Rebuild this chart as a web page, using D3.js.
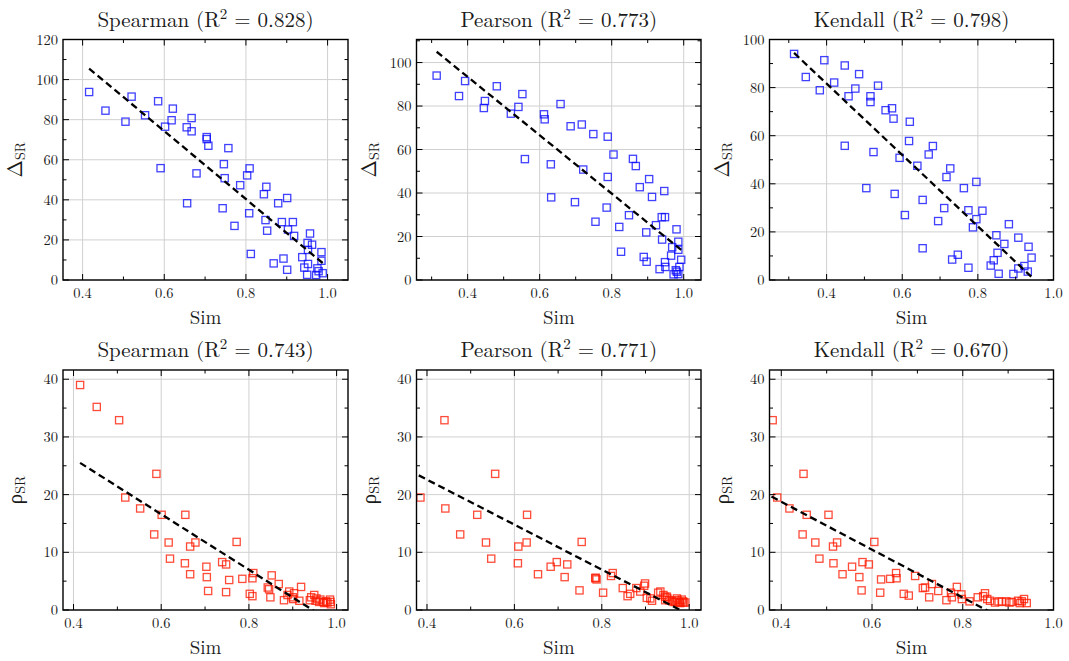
<!DOCTYPE html>
<html>
<head>
<meta charset="utf-8">
<script src="https://cdn.jsdelivr.net/npm/d3@7"></script>
<style>
  body { margin: 0; background: #fff; }
  svg { display: block; }
</style>
</head>
<body>
<svg id="chart" width="1069" height="661"></svg>
<script>
// ---------- data ----------
const methods = ["Spearman", "Pearson", "Kendall", "Spearman", "Pearson", "Kendall"];
const r2Values = [0.828, 0.773, 0.798, 0.743, 0.771, 0.670];
const xTickLabels = [0.4, 0.6, 0.8, 1.0];

// Delta_SR vs similarity
const simSpearmanA = [0.416,0.456,0.505,0.520,0.553,0.585,0.591,0.602,0.618,0.621,0.655,0.656,0.667,0.667,0.679,0.704,0.704,0.708,0.757,0.746,0.748,0.743,0.772,0.786,0.803,0.809,0.808,0.812,0.844,0.848,0.850,0.852,0.868,0.879,0.888,0.892,0.901,0.901,0.903,0.915,0.918,0.938,0.943,0.950,0.951,0.952,0.952,0.957,0.962,0.972,0.975,0.978,0.985,0.985,0.988];
const deltaSpearman = [93.8,84.5,79.0,91.5,82.2,89.2,55.8,76.5,79.7,85.5,76.2,38.3,80.8,74.2,53.2,71.3,70.3,67.0,65.8,57.8,50.8,35.8,27.0,47.3,52.2,55.7,33.3,13.0,42.8,29.9,46.5,24.6,8.3,38.3,28.9,10.7,40.9,5.1,25.2,28.9,22.0,11.4,6.2,2.6,18.5,15.0,8.0,23.2,17.6,2.5,5.8,4.4,13.9,9.6,3.4];

const simPearsonA = [0.314,0.376,0.393,0.445,0.448,0.481,0.520,0.541,0.552,0.559,0.612,0.614,0.631,0.632,0.658,0.686,0.698,0.717,0.721,0.749,0.755,0.786,0.789,0.789,0.805,0.821,0.826,0.848,0.859,0.867,0.878,0.889,0.896,0.897,0.904,0.912,0.923,0.933,0.939,0.940,0.946,0.948,0.948,0.949,0.965,0.968,0.972,0.978,0.980,0.981,0.985,0.985,0.985,0.988,0.993];
const deltaPearson = [94.0,84.6,91.5,79.1,82.3,89.1,76.5,79.6,85.5,55.6,76.2,73.9,53.2,38.0,80.9,70.7,35.8,71.5,50.8,67.1,26.8,33.3,65.9,47.4,57.7,24.4,13.0,29.8,55.7,52.4,42.7,10.6,21.9,8.4,46.4,38.2,25.2,5.0,28.9,18.6,40.9,28.9,8.2,6.0,11.2,15.1,2.6,4.5,23.3,3.8,17.6,13.9,2.7,6.0,9.3];

const simKendallA = [0.314,0.345,0.382,0.394,0.420,0.448,0.448,0.458,0.476,0.486,0.505,0.516,0.516,0.524,0.536,0.556,0.573,0.577,0.580,0.593,0.607,0.618,0.620,0.640,0.654,0.654,0.670,0.681,0.695,0.711,0.717,0.727,0.732,0.747,0.763,0.775,0.775,0.787,0.796,0.796,0.812,0.834,0.842,0.849,0.852,0.855,0.870,0.882,0.894,0.907,0.907,0.923,0.932,0.934,0.942];
const deltaKendall = [94.0,84.4,78.9,91.4,82.1,89.2,55.8,76.4,79.6,85.6,38.2,76.4,74.0,53.2,80.8,70.6,71.4,67.1,35.8,50.8,27.0,57.8,65.8,47.5,33.3,13.2,52.2,55.7,24.5,29.9,42.8,46.4,8.5,10.5,38.2,29.0,5.1,21.9,40.8,25.3,28.8,6.0,8.2,18.6,11.3,2.6,15.0,23.2,2.5,17.6,4.8,5.8,3.5,13.8,9.3];

// rho_SR vs similarity
const simSpearmanB = [0.415,0.453,0.504,0.518,0.552,0.584,0.589,0.601,0.617,0.620,0.654,0.655,0.666,0.666,0.678,0.703,0.704,0.707,0.739,0.748,0.748,0.755,0.772,0.785,0.802,0.808,0.808,0.810,0.843,0.846,0.849,0.852,0.868,0.880,0.888,0.892,0.900,0.901,0.903,0.915,0.919,0.939,0.942,0.949,0.952,0.954,0.960,0.963,0.969,0.972,0.976,0.979,0.985,0.986,0.987];
const rhoSpearman = [39.0,35.2,32.9,19.5,17.6,13.1,23.6,16.5,11.7,8.9,8.1,16.5,11.0,6.2,11.7,7.5,5.7,3.3,8.3,7.9,3.1,5.2,11.8,5.4,2.8,5.5,2.4,6.4,3.9,3.6,2.2,6.0,4.5,1.7,2.6,3.2,2.2,1.9,2.9,1.6,4.0,1.7,2.2,2.6,1.6,2.0,1.4,1.8,1.4,1.2,1.5,1.3,1.8,1.4,1.0];

const simPearsonB = [0.314,0.360,0.385,0.440,0.442,0.476,0.515,0.535,0.547,0.556,0.608,0.609,0.628,0.629,0.654,0.683,0.697,0.715,0.721,0.749,0.754,0.785,0.786,0.788,0.803,0.821,0.825,0.848,0.859,0.865,0.879,0.888,0.897,0.899,0.903,0.911,0.915,0.929,0.934,0.941,0.945,0.945,0.949,0.950,0.954,0.960,0.964,0.968,0.972,0.973,0.976,0.979,0.979,0.983,0.986,0.987,0.991];
const rhoPearson = [39.0,35.2,19.5,32.9,17.6,13.1,16.5,11.7,8.9,23.6,8.1,11.0,11.7,16.5,6.2,7.5,8.3,5.7,7.9,3.4,11.8,5.5,5.6,5.3,3.0,5.9,6.4,3.8,2.4,2.8,3.8,3.2,4.2,4.6,2.1,2.0,1.6,3.0,3.2,2.6,2.3,1.7,2.3,2.0,1.7,1.6,1.4,1.4,2.0,1.7,1.4,1.3,1.2,1.8,1.5,1.3,1.3];

const simKendallB = [0.314,0.345,0.381,0.391,0.418,0.447,0.449,0.456,0.475,0.484,0.504,0.514,0.515,0.523,0.535,0.556,0.572,0.577,0.579,0.593,0.605,0.618,0.620,0.640,0.653,0.654,0.670,0.681,0.695,0.712,0.717,0.726,0.732,0.746,0.764,0.774,0.776,0.787,0.797,0.798,0.815,0.833,0.845,0.849,0.854,0.860,0.871,0.879,0.886,0.896,0.903,0.908,0.922,0.926,0.930,0.935,0.941];
const rhoKendall = [39.0,35.2,32.9,19.5,17.6,13.1,23.6,16.5,11.7,8.9,16.5,11.0,8.1,11.7,6.2,7.5,5.7,3.4,8.3,7.9,11.8,3.0,5.3,5.4,6.4,5.5,2.8,2.5,5.9,3.8,3.9,2.2,4.5,3.3,1.7,3.0,2.2,4.0,2.7,1.9,1.5,2.2,2.4,2.9,1.9,1.6,1.3,1.5,1.4,1.5,1.3,1.4,1.6,1.2,1.5,1.9,1.2];

// least-squares fit per panel: y = intercept + slope * sim
const fitSlope = [-169.6, -134.2, -148.3, -48.1, -39.0, -41.5];
const fitIntercept = [176.05, 147.1, 140.97, 45.46, 38.2, 35.36];

// ---------- layout ----------
const FONT = "Latin Modern Roman";
const svg = d3.select("#chart");
svg.append("rect").attr("width", 1069).attr("height", 661).attr("fill", "#fff");

const cols = [[63, 348], [416.5, 701], [769.5, 1053.5]];
const rows = [[39.5, 280], [370, 610]];

const panels = [
  { xs: simSpearmanA, ys: deltaSpearman, xDom: [0.352, 1.05],  yDom: [0, 120],   yStep: 20, label: "Δ", color: "#0a0aff" },
  { xs: simPearsonA,  ys: deltaPearson,  xDom: [0.258, 1.048], yDom: [0, 110.6], yStep: 20, label: "Δ", color: "#0a0aff" },
  { xs: simKendallA,  ys: deltaKendall,  xDom: [0.249, 1.0],   yDom: [0, 100],   yStep: 20, label: "Δ", color: "#0a0aff" },
  { xs: simSpearmanB, ys: rhoSpearman,   xDom: [0.376, 1.026], yDom: [0, 41.6],  yStep: 10, label: "ρ", color: "#ff1a00" },
  { xs: simPearsonB,  ys: rhoPearson,    xDom: [0.376, 1.027], yDom: [0, 41.6],  yStep: 10, label: "ρ", color: "#ff1a00" },
  { xs: simKendallB,  ys: rhoKendall,    xDom: [0.374, 1.0],   yDom: [0, 41.6],  yStep: 10, label: "ρ", color: "#ff1a00" }
];

const round = v => Math.round(v * 1000) / 1000;
const MAJOR = 6, MINOR = 3.5, SQ = 7.2;
const TXT = "#1a1a1a";
const addText = (sel) => sel.append("text").attr("font-family", FONT).attr("fill", TXT);

panels.forEach((p, i) => {
  const [x0, x1] = cols[i % 3];
  const [y0, y1] = rows[Math.floor(i / 3)];
  const x = d3.scaleLinear().domain(p.xDom).range([x0, x1]);
  const y = d3.scaleLinear().domain(p.yDom).range([y1, y0]);
  const g = svg.append("g");
  const clipId = "clip" + i;
  svg.append("clipPath").attr("id", clipId)
    .append("rect").attr("x", x0).attr("y", y0).attr("width", x1 - x0).attr("height", y1 - y0);

  const inX = v => v >= p.xDom[0] - 1e-9 && v <= p.xDom[1] + 1e-9;
  const inY = v => v >= p.yDom[0] - 1e-9 && v <= p.yDom[1] + 1e-9;
  const xMajor = d3.range(0, 11, 2).map(v => round(v / 10)).filter(inX);
  const xMinor = d3.range(1, 11, 2).map(v => round(v / 10)).filter(inX);
  const yMajor = d3.range(0, p.yDom[1] + 0.001, p.yStep).map(round).filter(inY);
  const yMinor = d3.range(p.yStep / 2, p.yDom[1], p.yStep).map(round).filter(inY);

  // grid
  g.selectAll(null).data(xMajor).enter().append("line")
    .attr("x1", d => x(d)).attr("x2", d => x(d)).attr("y1", y0).attr("y2", y1)
    .attr("stroke", "#d0d0d0").attr("stroke-width", 1);
  g.selectAll(null).data(yMajor).enter().append("line")
    .attr("x1", x0).attr("x2", x1).attr("y1", d => y(d)).attr("y2", d => y(d))
    .attr("stroke", "#d0d0d0").attr("stroke-width", 1);

  // scatter
  const pts = p.xs.map((v, k) => [v, p.ys[k]]);
  g.append("g").attr("clip-path", `url(#${clipId})`)
    .selectAll("rect").data(pts).enter().append("rect")
    .attr("x", d => x(d[0]) - SQ / 2).attr("y", d => y(d[1]) - SQ / 2)
    .attr("width", SQ).attr("height", SQ)
    .attr("fill", "none").attr("stroke", p.color).attr("stroke-width", 1.3)
    .attr("stroke-opacity", 0.78);

  // fit line over the data range
  const ext = d3.extent(p.xs);
  const fitPts = ext.map(v => [v, fitIntercept[i] + fitSlope[i] * v]);
  g.append("path").attr("clip-path", `url(#${clipId})`)
    .attr("d", d3.line().x(d => x(d[0])).y(d => y(d[1]))(fitPts))
    .attr("fill", "none").attr("stroke", "#000").attr("stroke-width", 2.3)
    .attr("stroke-dasharray", "7,4");

  // inward ticks on all four sides
  const tick = (vals, len, horizontal) => {
    vals.forEach(v => {
      if (horizontal) {
        const xx = x(v);
        g.append("line").attr("x1", xx).attr("x2", xx).attr("y1", y1).attr("y2", y1 - len).attr("stroke", "#000").attr("stroke-width", 1);
        g.append("line").attr("x1", xx).attr("x2", xx).attr("y1", y0).attr("y2", y0 + len).attr("stroke", "#000").attr("stroke-width", 1);
      } else {
        const yy = y(v);
        g.append("line").attr("x1", x0).attr("x2", x0 + len).attr("y1", yy).attr("y2", yy).attr("stroke", "#000").attr("stroke-width", 1);
        g.append("line").attr("x1", x1).attr("x2", x1 - len).attr("y1", yy).attr("y2", yy).attr("stroke", "#000").attr("stroke-width", 1);
      }
    });
  };
  tick(xMajor, MAJOR, true); tick(xMinor, MINOR, true);
  tick(yMajor, MAJOR, false); tick(yMinor, MINOR, false);

  // frame
  g.append("rect").attr("x", x0).attr("y", y0).attr("width", x1 - x0).attr("height", y1 - y0)
    .attr("fill", "none").attr("stroke", "#000").attr("stroke-width", 1.4);

  // tick labels
  xTickLabels.filter(inX).forEach(d => {
    addText(g).attr("x", x(d)).attr("y", y1 + 18).attr("text-anchor", "middle")
      .attr("font-size", 14.5).text(d3.format(".1f")(d));
  });
  yMajor.forEach(d => {
    addText(g).attr("x", x0 - 5).attr("y", y(d)).attr("dy", "0.35em").attr("text-anchor", "end")
      .attr("font-size", 14.5).text(d3.format("d")(d));
  });

  // title
  const cx = (x0 + x1) / 2;
  const t = addText(g).attr("x", cx).attr("y", y0 - 13).attr("text-anchor", "middle").attr("font-size", 21);
  t.append("tspan").text(`${methods[i]} (R`);
  t.append("tspan").attr("dy", -8).attr("font-size", 15).text("2");
  t.append("tspan").attr("dy", 8).text(` = ${d3.format(".3f")(r2Values[i])})`);

  // axis labels
  addText(g).attr("x", cx).attr("y", y1 + 44).attr("text-anchor", "middle")
    .attr("font-size", 19).text("Sim");
  const yl = addText(g)
    .attr("transform", `translate(${x0 - 41},${(y0 + y1) / 2}) rotate(-90)`)
    .attr("text-anchor", "middle").attr("font-size", 21);
  yl.append("tspan").text(p.label);
  yl.append("tspan").attr("dy", 3).attr("font-size", 14).text("SR");
});
</script>
</body>
</html>
